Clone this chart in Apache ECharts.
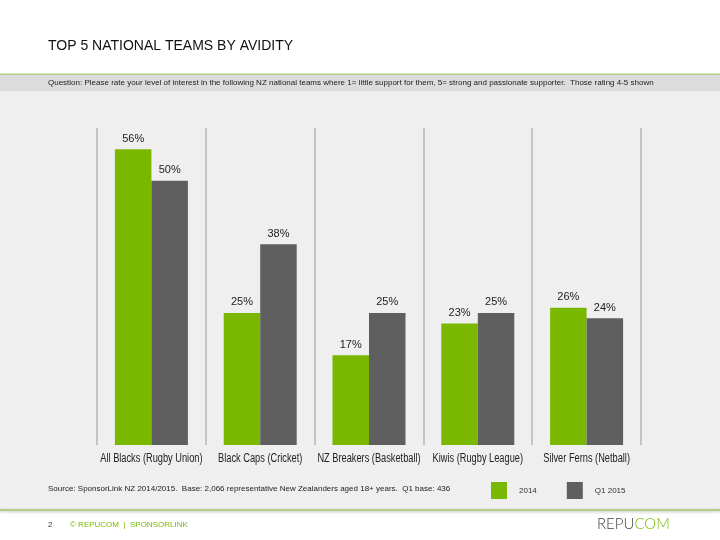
<!DOCTYPE html>
<html>
<head>
<meta charset="utf-8">
<script src="https://cdn.jsdelivr.net/npm/echarts@6/dist/echarts.min.js"></script>
<style>
  html, body { margin: 0; padding: 0; background: #fff; }
  #chart { width: 720px; height: 540px; }
</style>
</head>
<body>
<div id="chart"></div>
<script>
// teams and the two survey waves (% rating 4-5)
var teams = ['All Blacks (Rugby Union)', 'Black Caps (Cricket)', 'NZ Breakers (Basketball)', 'Kiwis (Rugby League)', 'Silver Ferns (Netball)'];
var wave2014 = [56, 25, 17, 23, 26];
var waveQ12015 = [50, 38, 25, 25, 24];
var seriesNames = ['2014', 'Q1 2015'];

var GREEN = '#7ab800';
var GREY = '#5f5f5f';
var REG = "'Liberation Sans', Arial, sans-serif";

var myChart = echarts.init(document.getElementById('chart'));

var labelStyle = {
    show: true,
    position: 'top',
    distance: 5,
    formatter: '{c}%',
    color: '#222',
    fontFamily: REG,
    fontSize: 11
};

var option = {
    backgroundColor: '#fff',
    animation: false,
    graphic: [
        // panel backgrounds
        { type: 'rect', z: -10, silent: true, shape: { x: 0, y: 75, width: 720, height: 16 }, style: { fill: '#dcdcdc' } },
        { type: 'rect', z: -10, silent: true, shape: { x: 0, y: 91, width: 720, height: 419 }, style: { fill: '#efefef' } },
        { type: 'rect', z: -9, silent: true, shape: { x: 0, y: 73.5, width: 720, height: 1.5 }, style: { fill: '#b3cf86' } },
        { type: 'rect', z: -9, silent: true, shape: { x: 0, y: 509, width: 720, height: 2 }, style: { fill: '#b3cf86', shadowBlur: 3, shadowColor: 'rgba(0,0,0,0.25)', shadowOffsetY: 1 } },
        // texts
        { type: 'text', left: 48, top: 39, style: { text: 'TOP 5 NATIONAL TEAMS BY AVIDITY', fill: '#111', font: '14px ' + REG } },
        { type: 'text', left: 48, top: 79, style: { text: 'Question: Please rate your level of interest in the following NZ national teams where 1= little support for them, 5= strong and passionate supporter.  Those rating 4-5 shown', fill: '#222', font: '8px ' + REG } },
        { type: 'text', left: 48, top: 485, style: { text: 'Source: SponsorLink NZ 2014/2015.  Base: 2,066 representative New Zealanders aged 18+ years.  Q1 base: 436', fill: '#222', font: '8px ' + REG } },
        { type: 'text', left: 48, top: 521, style: { text: '2', fill: '#333', font: '8px ' + REG } },
        { type: 'text', left: 70, top: 521, style: { text: '\u00a9 REPUCOM  |  SPONSORLINK', fill: GREEN, font: '8px ' + REG } },
        {
            type: 'text', left: 597, top: 517,
            style: {
                text: '{a|REPU}{b|COM}',
                rich: {
                    a: { fill: '#444', font: '300 15px Lato, ' + REG },
                    b: { fill: GREEN, font: '300 15px Lato, ' + REG }
                }
            }
        }
    ],
    legend: {
        left: 491,
        top: 482,
        padding: 0,
        itemWidth: 16,
        itemHeight: 17,
        itemGap: 30,
        icon: 'rect',
        data: seriesNames,
        textStyle: { color: '#333', fontFamily: REG, fontSize: 8, padding: [0, 0, 0, 7] }
    },
    grid: {
        left: 97,
        right: 79,
        top: 128,
        bottom: 95
    },
    xAxis: {
        type: 'category',
        data: teams,
        axisLine: { show: false },
        axisTick: { show: false },
        axisLabel: { show: false },
        splitLine: {
            show: true,
            interval: 0,
            lineStyle: { color: '#c4c4c4', width: 2 }
        }
    },
    yAxis: {
        type: 'value',
        min: 0,
        max: 60,
        show: false,
        splitLine: { show: false }
    },
    series: [
        {
            name: seriesNames[0],
            type: 'bar',
            data: wave2014,
            barWidth: 36.5,
            barGap: '0%',
            itemStyle: { color: GREEN },
            label: labelStyle
        },
        {
            name: seriesNames[1],
            type: 'bar',
            data: waveQ12015,
            barWidth: 36.5,
            barGap: '0%',
            itemStyle: { color: GREY },
            label: labelStyle
        }
    ]
};

myChart.setOption(option);

// category names in a condensed look: placed from the axis scale, squeezed horizontally
var baseY = myChart.convertToPixel({ yAxisIndex: 0 }, 0);
var catLabels = teams.map(function (name, i) {
    var cx = myChart.convertToPixel({ xAxisIndex: 0 }, name);
    return {
        type: 'text',
        id: 'cat' + i,
        x: cx,
        y: baseY + 14,
        scaleX: 0.77,
        silent: true,
        style: {
            text: name,
            fill: '#222',
            font: '12px ' + REG,
            align: 'center',
            verticalAlign: 'middle'
        }
    };
});
myChart.setOption({ graphic: catLabels });
</script>
</body>
</html>
